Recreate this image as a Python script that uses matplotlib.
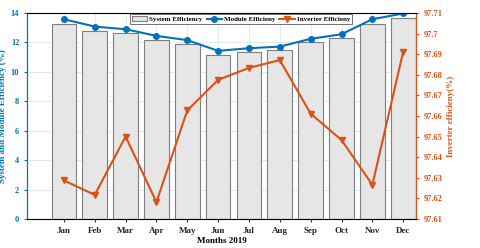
import numpy as np
import matplotlib.pyplot as plt

plt.rcParams['font.family'] = 'Liberation Serif'
plt.rcParams['font.weight'] = 'bold'

# Données
months = ['Jan', 'Feb', 'Mar', 'Apr', 'May', 'Jun', 'Jul', 'Aug', 'Sep', 'Oct', 'Nov', 'Dec']
system_eff = [13.26, 12.76, 12.62, 12.15, 11.87, 11.17, 11.33, 11.47, 11.99, 12.28, 13.26, 13.64]
module_eff = [13.57, 13.07, 12.89, 12.44, 12.15, 11.42, 11.60, 11.71, 12.24, 12.55, 13.57, 13.96]
inverter_eff = [97.6287, 97.6217, 97.650, 97.6182, 97.6627, 97.6775, 97.6833, 97.6871,
                97.6611, 97.6483, 97.6266, 97.6912]

blue = '#0072BD'
orange = '#D95319'

fig = plt.figure(figsize=(4.8, 2.48), dpi=100)
ax = fig.add_axes([0.056, 0.117, 0.811, 0.831])
x = np.arange(len(months))

bars = ax.bar(x, system_eff, width=0.8, color='#E6E6E6', edgecolor='#7F7F7F',
              linewidth=0.8, label='System Efficiency', zorder=2)
l1, = ax.plot(x, module_eff, color=blue, marker='o', markersize=4, linewidth=1.5,
              markerfacecolor=blue, markeredgecolor=blue, label='Module Efficieny', zorder=3)
ax.set_ylim(0, 14)
ax.set_xlim(-1.2, 11.42)
ax.set_yticks(range(0, 15, 2))
ax.set_xticks(x)
ax.set_xticklabels(months)
ax.grid(True, color='#DCE6EE', linewidth=0.6, zorder=0)
ax.set_axisbelow(True)
ax.tick_params(axis='y', colors=blue, labelsize=6, length=2)
ax.tick_params(axis='x', labelsize=6.5, length=2, colors='#262626')
ax.set_ylabel('System and Module Efficiency (%)', color=blue, fontsize=6.5, fontweight='bold', labelpad=3)
ax.set_xlabel('Months 2019', fontsize=6.5, fontweight='bold', labelpad=2)
ax.spines['left'].set_color(blue)
ax.spines['bottom'].set_color('#A8C8E8')
ax.spines['top'].set_color('#D0D0D0')

ax2 = ax.twinx()
l2, = ax2.plot(x, inverter_eff, color=orange, marker='v', markersize=4, linewidth=1.5,
               label='Inverter Efficieny', zorder=3)
ax2.set_ylim(97.61, 97.71)
ax2.set_yticks(np.round(np.arange(97.61, 97.7101, 0.01), 2))
ax2.set_yticklabels(['97.61', '97.62', '97.63', '97.64', '97.65', '97.66', '97.67',
                     '97.68', '97.69', '97.7', '97.71'])
ax2.tick_params(axis='y', colors=orange, labelsize=6, length=2)
ax2.set_ylabel('Inverter efficieny(%)', color=orange, fontsize=6.5, fontweight='bold', labelpad=3)
ax2.spines['right'].set_color(orange)
ax2.spines['left'].set_color(blue)

leg = ax2.legend([bars, l1, l2], ['System Efficiency', 'Module Efficieny', 'Inverter Efficieny'],
                 loc='upper center', bbox_to_anchor=(0.55, 1.01), ncol=3, fontsize=5.0,
                 frameon=True, fancybox=False, edgecolor='#333333', borderpad=0.3,
                 handlelength=2.2, columnspacing=0.6, handletextpad=0.3)
leg.get_frame().set_linewidth(0.6)

fig.savefig('out.png', dpi=100)
